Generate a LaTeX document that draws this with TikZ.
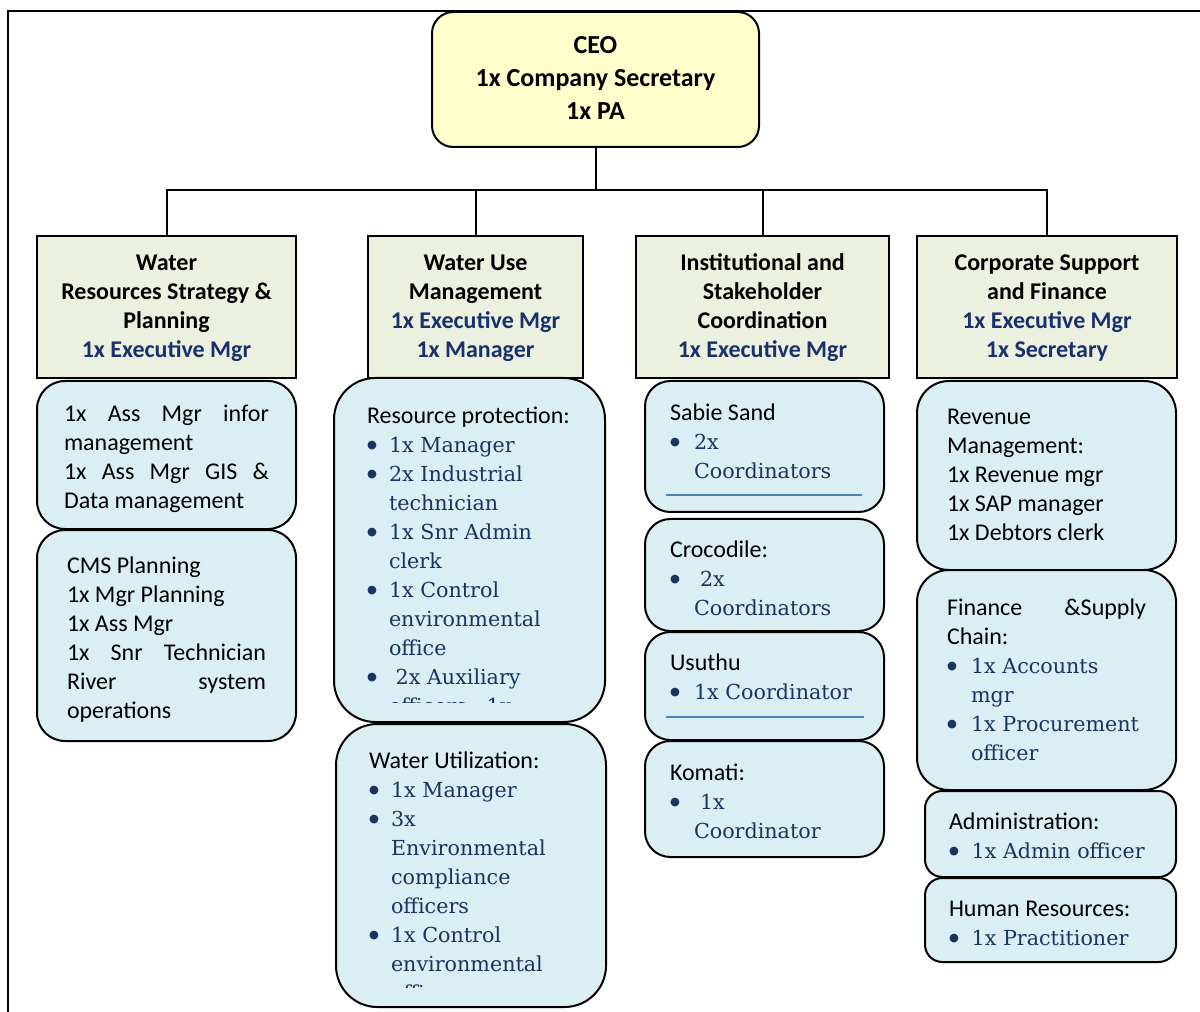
\documentclass[tikz,border=0pt]{standalone}
\usepackage{fontspec}
\setmainfont{Carlito}
\newfontfamily\cambfam{DejaVu Serif}
\newfontfamily\djsans{DejaVu Sans}
\definecolor{ceoY}{RGB}{255,255,204}
\definecolor{hdrG}{RGB}{235,241,222}
\definecolor{boxB}{RGB}{219,238,243}
\definecolor{navyT}{RGB}{25,48,110}
\definecolor{itemB}{RGB}{26,52,96}
\definecolor{ulineB}{RGB}{79,129,189}
\newcommand\cb{\cambfam\fontsize{15.5}{21.75}\selectfont\color{itemB}}
\newcommand\bdot{{\djsans\fontsize{8.5}{8.5}\selectfont\raisebox{3.2pt}{●}}}
\newcommand\itm[2][16.5pt]{{\cb\makebox[#1][l]{\bdot}#2}}
\newcommand\itc[2][16.5pt]{{\cb\hspace*{#1}#2}}
\newcommand\nv[1]{{\color{navyT}#1}}
\newcommand\bx[7]{\node[#1, minimum width={(#5-#3)*0.75pt}, minimum height={(#6-#4)*0.75pt}, rounded corners=#7] (#2) at (#3,#4) {};}
\begin{document}
\begin{tikzpicture}[x=0.75pt,y=-0.75pt,
  box/.style={draw=black, line width=1.5pt, inner sep=0pt, outer sep=0pt, anchor=north west},
  ceobox/.style={box, fill=ceoY},
  hdr/.style={box, fill=hdrG, line width=1.9pt},
  sub/.style={box, fill=boxB},
  txt/.style={inner sep=0pt, outer sep=0pt, anchor=north west, align=left, font=\fontsize{18}{21.75}\selectfont},
  htxt/.style={inner sep=0pt, outer sep=0pt, anchor=north, align=center, font=\bfseries\fontsize{18}{21.75}\selectfont},
  conn/.style={draw=black, line width=1.5pt},
  uline/.style={draw=ulineB, line width=1.5pt},
]
\useasboundingbox (0,0) rectangle (1200,1012);
% frame
\draw[line width=1.8pt] (8,1014) -- (8,11) -- (1202,11);

% CEO
\bx{ceobox}{ceo}{432}{12}{759}{147}{16pt}
\node[htxt, font=\bfseries\fontsize{19.5}{24.75}\selectfont] (ceot) at (595.5,30.6)
  {\strut CEO\\1x Company Secretary\\1x PA};

% headers
\bx{hdr}{h1}{37}{236}{296}{378}{0pt}
\bx{hdr}{h2}{368}{236}{583}{378}{0pt}
\bx{hdr}{h3}{636}{236}{889}{378}{0pt}
\bx{hdr}{h4}{917}{236}{1177}{378}{0pt}

\node[htxt] (h1t) at (166.5,250.5) {\strut Water\\Resources Strategy \&\\Planning\\\nv{1x Executive Mgr}};
\node[htxt] (h2t) at (475.5,250.5) {\strut Water Use\\Management\\\nv{1x Executive Mgr}\\\nv{1x Manager}};
\node[htxt] (h3t) at (762.5,250.5) {\strut Institutional and\\Stakeholder\\Coordination\\\nv{1x Executive Mgr}};
\node[htxt] (h4t) at (1047,250.5) {\strut Corporate Support\\and Finance\\\nv{1x Executive Mgr}\\\nv{1x Secretary}};

% connectors
\coordinate (j) at (595.5,190);
\draw[conn] (ceo.south) -- (j);
\draw[conn] (h1.north) |- (j) -| (h4.north);
\draw[conn] (h2.north) -- (h2.north |- j);
\draw[conn] (h3.north) -- (h3.north |- j);

% column 1
\bx{sub}{c1a}{37}{381}{296}{529}{21pt}
\bx{sub}{c1b}{37}{530}{296}{741}{21pt}
\node[txt] (c1at) at (64,401.2) {\strut\hbox to 153.75pt{1x\hfill Ass\hfill Mgr\hfill infor}\\
  management\\
  \hbox to 153.75pt{1x\hfill Ass\hfill Mgr\hfill GIS\hfill \&}\\
  Data management};
\node[txt] (c1bt) at (67,553.2) {\strut CMS Planning\\1x Mgr Planning\\1x Ass Mgr\\
  \hbox to 149.25pt{1x\hfill Snr\hfill Technician}\\
  \hbox to 149.25pt{River\hfill system}\\
  operations};

% column 2
\bx{sub}{c2a}{334}{378}{605}{722}{31pt}
\bx{sub}{c2b}{336}{724}{606}{1007}{31pt}
\begin{scope}
\clip (334,378) rectangle (605,702);
\node[txt] (c2at) at (367,403.2) {\strut Resource protection:\\
  \itm{1x Manager}\\
  \itm{2x Industrial}\\
  \itc{technician}\\
  \itm{1x Snr Admin}\\
  \itc{clerk}\\
  \itm{1x Control}\\
  \itc{environmental}\\
  \itc{office}\\
  \itm[21.5pt]{2x Auxiliary}\\
  \itc{officers , 1x}};
\end{scope}
\begin{scope}
\clip (336,724) rectangle (606,987);
\node[txt] (c2bt) at (369,748.2) {\strut Water Utilization:\\
  \itm{1x Manager}\\
  \itm{3x}\\
  \itc{Environmental}\\
  \itc{compliance}\\
  \itc{officers}\\
  \itm{1x Control}\\
  \itc{environmental}\\
  \itc{office}};
\end{scope}

% column 3
\bx{sub}{c3a}{645}{381}{884}{512}{19pt}
\bx{sub}{c3b}{645}{519}{884}{631}{19pt}
\bx{sub}{c3c}{645}{632}{884}{740}{19pt}
\bx{sub}{c3d}{645}{741}{884}{857}{19pt}
\node[txt] (c3at) at (670,400.2) {\strut Sabie Sand\\\itm[18pt]{2x}\\\itc[18pt]{Coordinators}};
\node[txt] (c3bt) at (670,537.2) {\strut Crocodile:\\\itm[22.5pt]{2x}\\\itc[18pt]{Coordinators}};
\node[txt] (c3ct) at (670,650.2) {\strut Usuthu\\\itm[18pt]{1x Coordinator}};
\node[txt] (c3dt) at (670,760.2) {\strut Komati:\\\itm[22.5pt]{1x}\\\itc[18pt]{Coordinator}};
\coordinate (u1a) at (666,495);
\coordinate (u1b) at (862,495);
\coordinate (u2a) at (666,717);
\coordinate (u2b) at (864,717);
\draw[uline] (u1a) -- (u1b);
\draw[uline] (u2a) -- (u2b);

% column 4
\bx{sub}{c4a}{917}{381}{1176}{570}{24pt}
\bx{sub}{c4b}{917}{570}{1176}{790}{24pt}
\bx{sub}{c4c}{925}{791}{1176}{877}{13pt}
\bx{sub}{c4d}{925}{878}{1176}{962}{13pt}
\node[txt] (c4at) at (947,404.2) {\strut Revenue\\Management:\\1x Revenue mgr\\1x SAP manager\\1x Debtors clerk};
\node[txt] (c4bt) at (947,595.2) {\strut\hbox to 149.25pt{Finance\hfill\&Supply}\\Chain:\\
  \itm[18pt]{1x Accounts}\\\itc[18pt]{mgr}\\\itm[18pt]{1x Procurement}\\\itc[18pt]{officer}};
\node[txt] (c4ct) at (949,809.2) {\strut Administration:\\\itm[17pt]{1x Admin officer}};
\node[txt] (c4dt) at (949,896.2) {\strut Human Resources:\\\itm[17pt]{1x Practitioner}};
\end{tikzpicture}
\end{document}
